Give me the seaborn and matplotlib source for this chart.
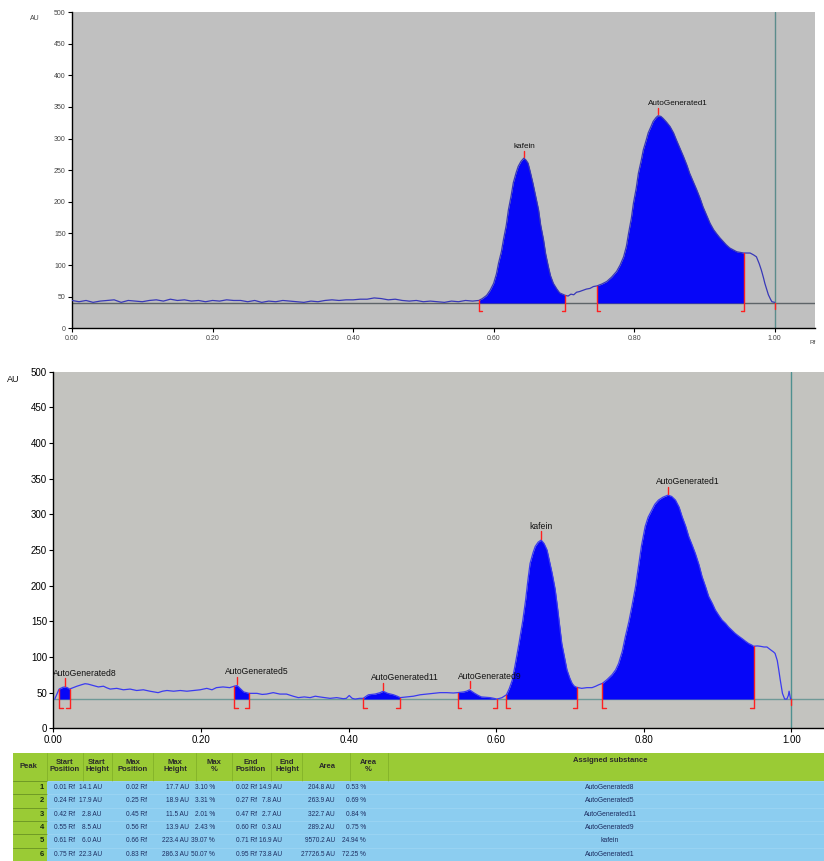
import numpy as np
import pandas as pd
import matplotlib
matplotlib.use("Agg")
import matplotlib.pyplot as plt
import seaborn as sns
from matplotlib.patches import Rectangle

# ---------------- data: upper chromatogram ----------------
top_rf = [0.000, 0.010, 0.020, 0.030, 0.040, 0.050, 0.060, 0.070, 0.080, 0.090,
          0.100, 0.110, 0.120, 0.130, 0.140, 0.150, 0.160, 0.170, 0.180, 0.190,
          0.200, 0.210, 0.220, 0.230, 0.240, 0.250, 0.260, 0.270, 0.280, 0.290,
          0.300, 0.310, 0.320, 0.330, 0.340, 0.350, 0.360, 0.370, 0.380, 0.390,
          0.400, 0.410, 0.420, 0.430, 0.440, 0.450, 0.460, 0.470, 0.480, 0.490,
          0.500, 0.510, 0.520, 0.530, 0.540, 0.550, 0.560, 0.570, 0.579, 0.584,
          0.590, 0.595, 0.600, 0.604, 0.607, 0.611, 0.614, 0.618, 0.621, 0.625,
          0.628, 0.632, 0.635, 0.639, 0.643, 0.646, 0.649, 0.652, 0.656, 0.660,
          0.664, 0.667, 0.671, 0.674, 0.678, 0.681, 0.685, 0.690, 0.694, 0.698,
          0.702, 0.706, 0.710, 0.714, 0.718, 0.722, 0.727, 0.732, 0.737, 0.742,
          0.747, 0.754, 0.761, 0.768, 0.775, 0.780, 0.785, 0.789, 0.792, 0.796,
          0.799, 0.803, 0.806, 0.810, 0.813, 0.817, 0.820, 0.824, 0.827, 0.831,
          0.834, 0.838, 0.841, 0.846, 0.851, 0.856, 0.860, 0.865, 0.870, 0.875,
          0.879, 0.884, 0.889, 0.894, 0.898, 0.903, 0.908, 0.913, 0.917, 0.922,
          0.927, 0.931, 0.936, 0.941, 0.946, 0.951, 0.956, 0.961, 0.965, 0.970,
          0.974, 0.978, 0.981, 0.984, 0.986, 0.989, 0.991, 0.994, 0.996, 1.000]
top_au = [44, 42, 44, 41, 43, 44, 45, 41, 44, 43,
          42, 44, 45, 43, 46, 44, 45, 43, 44, 42,
          44, 43, 45, 44, 44, 42, 44, 41, 43, 42,
          44, 43, 42, 41, 43, 42, 44, 45, 44, 45,
          45, 46, 46, 48, 47, 45, 46, 44, 43, 44,
          42, 43, 42, 41, 43, 42, 44, 43, 44, 47,
          52, 60, 71, 86, 103, 121, 140, 163, 187, 210,
          230, 246, 256, 264, 269, 266, 261, 248, 229, 208,
          187, 163, 140, 118, 97, 83, 71, 62, 56, 54,
          52, 51, 54, 53, 57, 58, 60, 62, 63, 66,
          67, 70, 74, 81, 90, 100, 113, 130, 150, 174,
          198, 222, 245, 265, 282, 297, 309, 319, 327, 333,
          336, 335, 332, 326, 319, 309, 298, 285, 272, 258,
          245, 232, 219, 205, 192, 179, 166, 156, 150, 143,
          137, 132, 127, 124, 121, 120, 119, 119, 119, 116,
          113, 102, 92, 80, 71, 60, 53, 46, 42, 41]
top_baseline = 40
top_names = ["kafein", "AutoGenerated1"]
top_start = [0.579, 0.747]
top_end = [0.702, 0.956]
top_max_rf = [0.643, 0.834]
top_max_au = [269, 336]

# ---------------- data: lower chromatogram ----------------
bot_rf = [0.002, 0.007, 0.008, 0.010, 0.013, 0.016, 0.019, 0.022, 0.027, 0.032,
          0.038, 0.043, 0.047, 0.054, 0.061, 0.068, 0.072, 0.077, 0.086, 0.095,
          0.104, 0.113, 0.122, 0.131, 0.142, 0.148, 0.154, 0.163, 0.172, 0.181,
          0.190, 0.199, 0.208, 0.215, 0.221, 0.230, 0.239, 0.245, 0.249, 0.253,
          0.258, 0.265, 0.276, 0.283, 0.289, 0.298, 0.307, 0.316, 0.325, 0.332,
          0.340, 0.348, 0.355, 0.361, 0.368, 0.375, 0.384, 0.393, 0.397, 0.401,
          0.405, 0.409, 0.415, 0.420, 0.424, 0.427, 0.436, 0.443, 0.447, 0.453,
          0.461, 0.466, 0.470, 0.479, 0.488, 0.497, 0.506, 0.515, 0.524, 0.533,
          0.542, 0.548, 0.556, 0.560, 0.564, 0.568, 0.571, 0.576, 0.580, 0.586,
          0.592, 0.597, 0.601, 0.605, 0.608, 0.611, 0.614, 0.618, 0.622, 0.626,
          0.631, 0.636, 0.640, 0.643, 0.646, 0.650, 0.653, 0.657, 0.661, 0.665,
          0.669, 0.672, 0.676, 0.680, 0.683, 0.686, 0.689, 0.693, 0.696, 0.700,
          0.703, 0.706, 0.709, 0.716, 0.723, 0.730, 0.735, 0.739, 0.744, 0.750,
          0.757, 0.762, 0.766, 0.771, 0.775, 0.780, 0.784, 0.789, 0.793, 0.797,
          0.802, 0.806, 0.811, 0.815, 0.820, 0.826, 0.833, 0.838, 0.843, 0.848,
          0.852, 0.857, 0.861, 0.866, 0.870, 0.875, 0.879, 0.884, 0.888, 0.893,
          0.897, 0.902, 0.906, 0.911, 0.915, 0.920, 0.924, 0.929, 0.933, 0.938,
          0.942, 0.946, 0.949, 0.954, 0.958, 0.963, 0.967, 0.972, 0.976, 0.978,
          0.981, 0.983, 0.985, 0.988, 0.991, 0.994, 0.996, 0.997, 0.999, 1.000]
bot_au = [41, 53, 55, 56, 57.5, 58, 57, 55, 57, 59,
          61, 62.5, 62, 60, 58, 59, 57, 55, 56, 54,
          55, 53, 54, 52, 50, 52, 53, 52, 53, 52,
          53, 54, 56, 54, 57, 58, 57, 59, 60, 56,
          51, 49, 49, 47.5, 48, 50, 48, 48, 45, 43,
          44, 43, 45, 44, 43, 42, 43, 41.5, 42, 46,
          42, 41, 42, 42, 45, 47, 48, 50, 52, 49,
          47, 45, 43, 44, 45, 47, 48, 49, 50, 50,
          49.5, 50, 51, 52, 54, 51, 49, 46, 44, 43.5,
          43, 42, 41, 42, 43, 45, 47, 56, 68, 90,
          119, 150, 180, 207, 231, 246, 255, 261, 264, 259,
          250, 236, 217, 195, 171, 145, 119, 98, 82, 70,
          63, 59, 57.5, 56, 57, 57, 59, 61, 63, 68,
          75, 82, 91, 108, 128, 150, 171, 199, 227, 256,
          283, 296, 306, 314, 320, 324, 327, 325, 320, 310,
          297, 283, 269, 256, 245, 229, 213, 198, 185, 175,
          166, 158, 152, 147, 142, 137, 133, 129, 126, 122,
          119, 117, 115, 115.5, 115, 114, 114, 110, 107, 105,
          95, 82, 68, 49, 41, 41, 46, 52, 41, 41]
bot_baseline = 41
bot_names = ["AutoGenerated8", "AutoGenerated5", "AutoGenerated11",
             "AutoGenerated9", "kafein", "AutoGenerated1"]
bot_start = [0.008, 0.245, 0.420, 0.548, 0.614, 0.744]
bot_end = [0.022, 0.265, 0.470, 0.601, 0.709, 0.949]
bot_max_rf = [0.016, 0.249, 0.447, 0.564, 0.661, 0.833]
bot_max_au = [58, 60, 52, 54, 264, 327]

# ---------------- data: peak table ----------------
tbl_headers = ["Peak", "Start\nPosition", "Start\nHeight", "Max\nPosition", "Max\nHeight",
               "Max\n%", "End\nPosition", "End\nHeight", "Area", "Area\n%",
               "Assigned substance"]
tbl_peak = ["1", "2", "3", "4", "5", "6"]
tbl_start_pos = ["0.01 Rf", "0.24 Rf", "0.42 Rf", "0.55 Rf", "0.61 Rf", "0.75 Rf"]
tbl_start_h = ["14.1 AU", "17.9 AU", "2.8 AU", "8.5 AU", "6.0 AU", "22.3 AU"]
tbl_max_pos = ["0.02 Rf", "0.25 Rf", "0.45 Rf", "0.56 Rf", "0.66 Rf", "0.83 Rf"]
tbl_max_h = ["17.7 AU", "18.9 AU", "11.5 AU", "13.9 AU", "223.4 AU", "286.3 AU"]
tbl_max_pct = ["3.10 %", "3.31 %", "2.01 %", "2.43 %", "39.07 %", "50.07 %"]
tbl_end_pos = ["0.02 Rf", "0.27 Rf", "0.47 Rf", "0.60 Rf", "0.71 Rf", "0.95 Rf"]
tbl_end_h = ["14.9 AU", "7.8 AU", "2.7 AU", "0.3 AU", "16.9 AU", "73.8 AU"]
tbl_area = ["204.8 AU", "263.9 AU", "322.7 AU", "289.2 AU", "9570.2 AU", "27726.5 AU"]
tbl_area_pct = ["0.53 %", "0.69 %", "0.84 %", "0.75 %", "24.94 %", "72.25 %"]
tbl_subst = ["AutoGenerated8", "AutoGenerated5", "AutoGenerated11",
             "AutoGenerated9", "kafein", "AutoGenerated1"]

# ---------------- style ----------------
sns.set_style("ticks")
plt.rcParams["font.family"] = ["Liberation Sans", "DejaVu Sans"]

W, H = 824, 861
fig = plt.figure(figsize=(W / 100, H / 100), dpi=100)
fig.patch.set_facecolor("white")


def fx(px):
    return px / W


def fy(py):
    return 1 - py / H


FILL = "#0606f8"


def draw_chrom(ax, rf, au, base, names, starts, ends, mrf, mau, *, bg, line_col,
               base_col, vcol, fs_tick, fs_lab, lab_dx, foot):
    ax.set_facecolor(bg)
    df = pd.DataFrame({"rf": rf, "au": au})
    x = np.asarray(rf)
    y = np.asarray(au, dtype=float)
    ax.axhline(base, color=base_col, lw=1.0, zorder=1)
    for s, e in zip(starts, ends):
        m = (x >= s - 1e-9) & (x <= e + 1e-9)
        ax.fill_between(x, y, base, where=m, color=FILL, lw=0, zorder=2)
    sns.lineplot(data=df, x="rf", y="au", ax=ax, color=line_col, lw=0.9,
                 sort=False, estimator=None, zorder=3)
    ax.axvline(1.0, color=vcol, lw=1.0, zorder=1)
    # boundary markers
    for s, e in zip(starts, ends):
        for b, d in ((s, 1), (e, -1)):
            yb = y[np.argmin(np.abs(x - b))]
            ax.plot([b, b], [base - 12, yb], color="#ff2020", lw=1.0, zorder=4)
            ax.plot([b, b + d * foot], [base - 12, base - 12], color="#ff2020",
                    lw=1.0, zorder=4)
    ax.plot([1.0, 1.0], [base - 9, base], color="#ff2020", lw=1.0, zorder=4)
    # peak markers and names
    for n, px, pa in zip(names, mrf, mau):
        ax.plot([px, px], [pa + 2, pa + 12], color="#ff2020", lw=1.0, zorder=4)
        ax.text(px - lab_dx, pa + 19, n, ha="left", va="center",
                fontsize=fs_lab, color="#111111", zorder=5)
    ax.set_ylim(0, 500)
    ax.set_yticks(np.arange(0, 501, 50))
    ax.set_xticks([0, 0.2, 0.4, 0.6, 0.8, 1.0])
    ax.set_xticklabels(["0.00", "0.20", "0.40", "0.60", "0.80", "1.00"])
    ax.set_xlabel("")
    ax.set_ylabel("")
    for sp in ("top", "right"):
        ax.spines[sp].set_visible(False)
    for sp in ("left", "bottom"):
        ax.spines[sp].set_color("black")
        ax.spines[sp].set_linewidth(1.0)
    ax.tick_params(axis="both", labelsize=fs_tick, length=3, width=0.8, pad=1.5,
                   colors="black")
    ax.grid(False)


# upper chart
ax1 = fig.add_axes([fx(72), fy(328.3), fx(743), 316.3 / H])
ax1.set_xlim(0, 743 / 702.7)
draw_chrom(ax1, top_rf, top_au, top_baseline, top_names, top_start, top_end,
           top_max_rf, top_max_au, bg="#c0c0c0", line_col="#3838b8",
           base_col="#5e6468", vcol="#5b8c8c", fs_tick=5, fs_lab=5.9,
           lab_dx=0.015, foot=0.004)
for t in ax1.get_xticklabels() + ax1.get_yticklabels():
    t.set_color("#444444")
fig.text(fx(35), fy(19), "AU", fontsize=5, color="#444444", ha="center", va="center")
fig.text(fx(813), fy(342), "Rf", fontsize=4.5, color="#444444", ha="center", va="center")

# lower chart
ax2 = fig.add_axes([fx(53.3), fy(728.3), fx(W - 53.3), 356.6 / H])
ax2.set_xlim(0, (W - 53.3) / 738)
draw_chrom(ax2, bot_rf, bot_au, bot_baseline, bot_names, bot_start, bot_end,
           bot_max_rf, bot_max_au, bg="#c3c3bf", line_col="#3a3af0",
           base_col="#6f9997", vcol="#4f9090", fs_tick=7, fs_lab=6.2,
           lab_dx=0.016, foot=0.005)
fig.text(fx(13), fy(380), "AU", fontsize=6.5, color="#111111", ha="center", va="center")

# ---------------- peak table ----------------
axt = fig.add_axes([0, 0, 1, 1 - 750 / H])
axt.set_xlim(0, W)
axt.set_ylim(H, 750)
axt.axis("off")

GREEN = "#9acb35"
BLUE = "#8ccdf0"
hdr_top, hdr_bot = 753, 781
row_h = (H - hdr_bot) / 6
tbl_left, peak_r = 13, 47
axt.add_patch(Rectangle((tbl_left, hdr_top), W - tbl_left, hdr_bot - hdr_top,
                        facecolor=GREEN, edgecolor="none"))
axt.add_patch(Rectangle((peak_r, hdr_bot), W - peak_r, H - hdr_bot,
                        facecolor=BLUE, edgecolor="none"))
axt.add_patch(Rectangle((tbl_left, hdr_bot), peak_r - tbl_left, H - hdr_bot,
                        facecolor=GREEN, edgecolor="none"))
for sx in [47, 83, 112, 153, 196, 232, 271, 302, 350, 388]:
    axt.plot([sx, sx], [hdr_top, hdr_bot], color="#86b52a", lw=0.7)
for i in range(7):
    yy = hdr_bot + i * row_h
    axt.plot([tbl_left, peak_r], [yy, yy], color="#6f9a25", lw=0.7)
    axt.plot([peak_r, W], [yy, yy], color="#9fd6f3", lw=0.5)

hdr_x = [28, 65, 97, 133, 175, 214, 251, 287, 327, 368, 610]
for hx, ht in zip(hdr_x, tbl_headers):
    yy = 760 if ht == "Assigned substance" else 766
    axt.text(hx, yy, ht, ha="center", va="center", fontsize=5.5,
             color="#2a2a2a", fontweight="bold", linespacing=1.1)

cols = [tbl_start_pos, tbl_start_h, tbl_max_pos, tbl_max_h, tbl_max_pct,
        tbl_end_pos, tbl_end_h, tbl_area, tbl_area_pct]
col_right = [75, 102, 147, 189, 215, 257, 282, 335, 366]
TXT = "#1c2c60"
for r in range(6):
    yc = hdr_bot + (r + 0.5) * row_h
    axt.text(44, yc, tbl_peak[r], ha="right", va="center", fontsize=5.5,
             color="#1a2a10", fontweight="bold")
    for cx, col in zip(col_right, cols):
        axt.text(cx, yc, col[r], ha="right", va="center", fontsize=4.7, color=TXT)
    axt.text(610, yc, tbl_subst[r], ha="center", va="center", fontsize=4.9, color=TXT)

fig.savefig("out.png", dpi=100, facecolor="white")
